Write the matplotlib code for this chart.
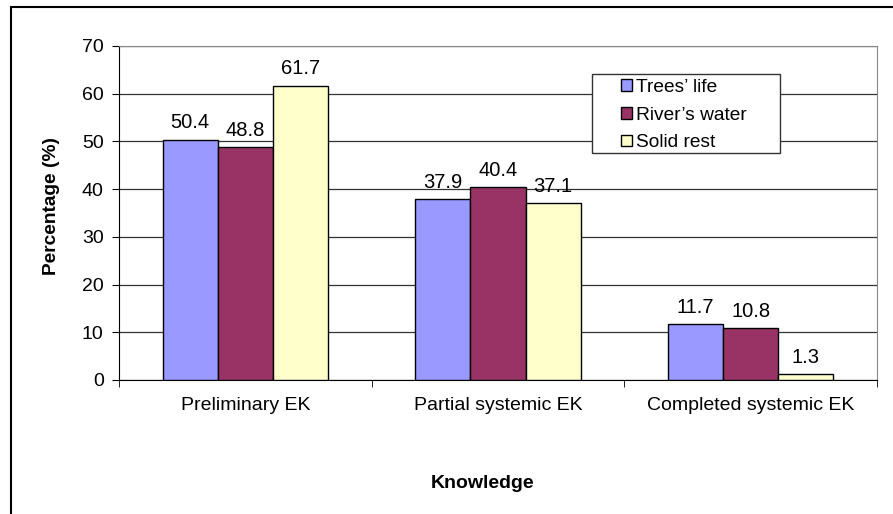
import numpy as np
import matplotlib
matplotlib.use("Agg")
import matplotlib.pyplot as plt
from matplotlib.patches import Rectangle

plt.rcParams['font.family'] = ['Liberation Sans', 'DejaVu Sans']

categories = ["Preliminary EK", "Partial systemic EK", "Completed systemic EK"]
series_names = ["Trees\u2019 life", "River\u2019s water", "Solid rest"]
trees_life = [50.4, 37.9, 11.7]
rivers_water = [48.8, 40.4, 10.8]
solid_rest = [61.7, 37.1, 1.3]
colors = ["#9999FF", "#993366", "#FFFFCC"]

W, H = 893, 514
fig = plt.figure(figsize=(W/100, H/100), dpi=100)
ax = fig.add_axes([119/W, 1 - 380/H, (877-119)/W, (380-46)/H])

x = np.arange(len(categories))
w = 0.218
for i, (vals, name, c) in enumerate(zip([trees_life, rivers_water, solid_rest], series_names, colors)):
    pos = x + (i - 1) * w
    ax.bar(pos, vals, width=w, color=c, edgecolor="black", linewidth=1.0, label=name, zorder=3)
    for p, v in zip(pos, vals):
        ax.text(p, v + 1.5, f"{v}", ha="center", va="bottom", fontsize=14.5)

ax.set_xlim(-0.5, 2.5)
ax.set_ylim(0, 70)
ax.set_yticks(range(0, 71, 10))
ax.yaxis.grid(True, color="#333333", linewidth=0.9, zorder=0)
ax.set_xticks(x)
ax.set_xticklabels(categories, fontsize=14)
ax.set_xticks([-0.5, 0.5, 1.5, 2.5], minor=True)
ax.tick_params(axis="x", which="major", length=0, pad=12)
ax.tick_params(axis="x", which="minor", length=5, direction="out")
ax.tick_params(axis="y", length=5, direction="out", labelsize=14, pad=6)

for s in ["top", "right"]:
    ax.spines[s].set_color("#888888")
ax.spines["left"].set_color("black")
ax.spines["bottom"].set_color("black")

# axis titles
fig.text(52/W, 1 - 206/H, "Percentage (%)", rotation=90, ha="center", va="center",
         fontsize=13.8, fontweight="bold")
fig.text(483/W, 1 - 483/H, "Knowledge", ha="center", va="center",
         fontsize=14, fontweight="bold")

# legend: box drawn separately so the inner padding matches
ax_w, ax_h = 877 - 119, 380 - 46
box = Rectangle(((592-119)/ax_w, (380-153)/ax_h), (780-592)/ax_w, (153-74)/ax_h,
                transform=ax.transAxes, facecolor="white", edgecolor="#333333",
                linewidth=1.0, zorder=5)
ax.add_patch(box)
leg = ax.legend(loc="upper left", bbox_to_anchor=((621-119)/ax_w, (380-79)/ax_h),
                fontsize=13.8, frameon=False, handlelength=0.55, handleheight=0.55,
                handletextpad=0.25, borderpad=0, labelspacing=0.55, borderaxespad=0)
leg.set_zorder(6)

fig.patches.append(Rectangle((11/W, -0.1), 1.0, 1 - 7/H + 0.1, fill=False,
                             edgecolor="black", linewidth=1.5, transform=fig.transFigure))

fig.savefig("out.png", dpi=100)
